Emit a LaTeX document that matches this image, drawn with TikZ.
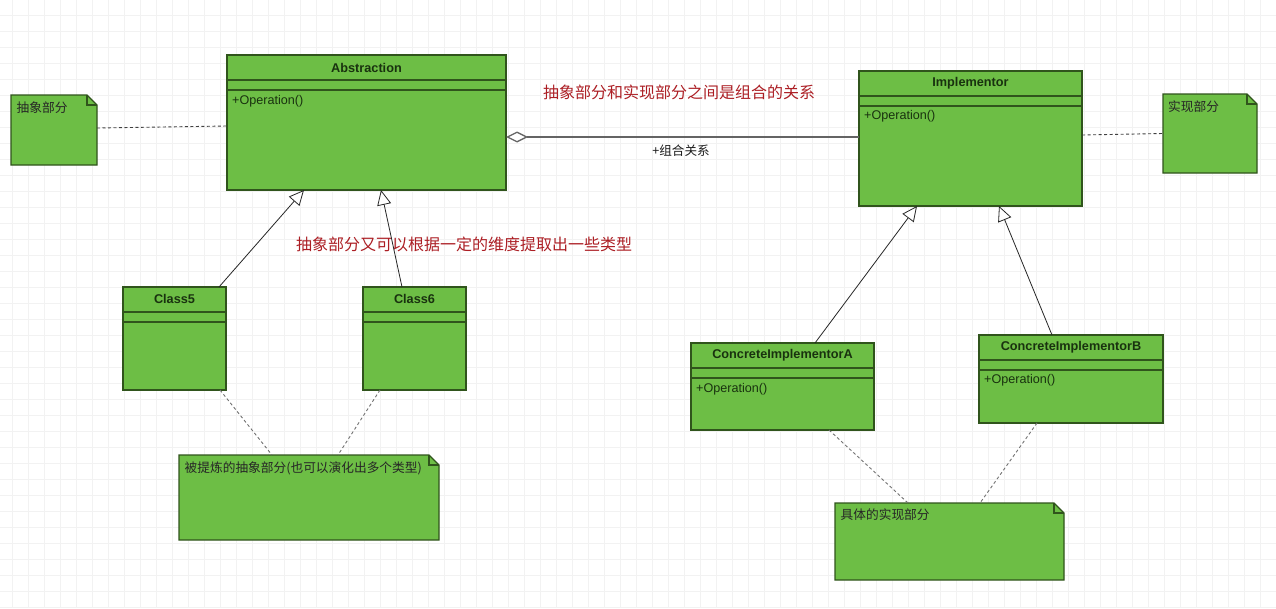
\documentclass[tikz,border=0pt]{standalone}
\usepackage{fontspec}
\setmainfont{Liberation Sans}
\newfontfamily\cjk{Noto Sans CJK SC}
\usetikzlibrary{arrows.meta,calc}
\definecolor{boxfill}{RGB}{109,190,69}
\definecolor{boxline}{RGB}{48,84,28}
\definecolor{boxtext}{RGB}{25,50,15}
\definecolor{redtext}{RGB}{172,30,36}
\definecolor{gridc}{RGB}{242,242,242}
\definecolor{assocc}{RGB}{100,100,100}
\newcommand{\drawnote}[1]{%
  \filldraw[notestyle] (#1.north west) -- ([xshift=-10pt]#1.north east) -- ([yshift=-10pt]#1.north east) -- (#1.south east) -- (#1.south west) -- cycle;
  \draw[notestyle,fill=none] ([xshift=-10pt]#1.north east) -- ([xshift=-10pt,yshift=-10pt]#1.north east) -- ([yshift=-10pt]#1.north east);}
\tikzset{
  umlbox/.style={draw=boxline, fill=boxfill, line width=1.4pt, inner sep=0pt, outer sep=0pt, anchor=north west},
  sepline/.style={draw=boxline, line width=2pt},
  cname/.style={font=\fontsize{12.7}{15}\selectfont\bfseries, text=boxtext, inner sep=0pt},
  optext/.style={font=\fontsize{12.6}{15}\selectfont, text=boxtext, inner sep=0pt, anchor=west},
  noteframe/.style={draw=none, fill=none, inner sep=0pt, outer sep=0pt, anchor=north west},
  notestyle/.style={draw=boxline, fill=boxfill, line width=1.3pt, line join=miter},
  notetext/.style={font=\cjk\fontsize{12.7}{15}\selectfont, text=black!85, inner sep=0pt, anchor=west},
  redlabel/.style={font=\cjk\fontsize{16}{19}\selectfont, text=redtext, inner sep=0pt},
  gen/.style={draw=black!85, line width=0.8pt, -{Triangle[open, length=15pt, width=14pt, fill=white]}},
  assoc/.style={draw=assocc, line width=1.3pt, {Diamond[open, length=22pt, width=11pt, fill=white]}-},
  notelink/.style={draw=black!75, line width=0.9pt, dash pattern=on 3pt off 2.5pt},
  notelinklight/.style={draw=black!55, line width=0.9pt, dash pattern=on 3pt off 2.5pt},
  gridline/.style={draw=gridc, line width=0.8pt}
}
\begin{document}
\begin{tikzpicture}[x=1pt,y=-1pt]
\useasboundingbox[fill=white] (0,0) rectangle (1276,608);
% background grid
\foreach \gx in {12,28,...,1276} \draw[gridline] (\gx,0) -- (\gx,608);
\foreach \gy in {15,31,...,608} \draw[gridline] (0,\gy) -- (1276,\gy);

% ---- classes ----
\node[umlbox, minimum width=279pt, minimum height=135pt] (abs) at (227,55) {};
\draw[sepline] (abs.west |- 0,80) -- (abs.east |- 0,80);
\draw[sepline] (abs.west |- 0,89.5) -- (abs.east |- 0,89.5);
\node[cname] (absname) at (abs.north |- 0,67.5) {Abstraction};
\node[optext] (absop) at (232,101) {+Operation()};

\node[umlbox, minimum width=223pt, minimum height=135pt] (impl) at (859,71) {};
\draw[sepline] (impl.west |- 0,96) -- (impl.east |- 0,96);
\draw[sepline] (impl.west |- 0,105.5) -- (impl.east |- 0,105.5);
\node[cname] (implname) at (impl.north |- 0,83.5) {Implementor};
\node[optext] (implop) at (864,116.5) {+Operation()};

\node[umlbox, minimum width=103pt, minimum height=103pt] (c5) at (123,287) {};
\draw[sepline] (c5.west |- 0,311.5) -- (c5.east |- 0,311.5);
\draw[sepline] (c5.west |- 0,321.5) -- (c5.east |- 0,321.5);
\node[cname] (c5name) at (c5.north |- 0,299) {Class5};

\node[umlbox, minimum width=103pt, minimum height=103pt] (c6) at (363,287) {};
\draw[sepline] (c6.west |- 0,311.5) -- (c6.east |- 0,311.5);
\draw[sepline] (c6.west |- 0,321.5) -- (c6.east |- 0,321.5);
\node[cname] (c6name) at (c6.north |- 0,299) {Class6};

\node[umlbox, minimum width=183pt, minimum height=87pt] (cia) at (691,343) {};
\draw[sepline] (cia.west |- 0,368) -- (cia.east |- 0,368);
\draw[sepline] (cia.west |- 0,377.5) -- (cia.east |- 0,377.5);
\node[cname] (cianame) at (cia.north |- 0,355) {ConcreteImplementorA};
\node[optext] (ciaop) at (696,389) {+Operation()};

\node[umlbox, minimum width=184pt, minimum height=88pt] (cib) at (979,335) {};
\draw[sepline] (cib.west |- 0,360) -- (cib.east |- 0,360);
\draw[sepline] (cib.west |- 0,370) -- (cib.east |- 0,370);
\node[cname] (cibname) at (cib.north |- 0,347.3) {ConcreteImplementorB};
\node[optext] (cibop) at (984,380.5) {+Operation()};

% ---- notes ----
\node[noteframe, minimum width=86pt, minimum height=70pt] (n1) at (11,95) {};
\drawnote{n1}
\node[notetext] (n1t) at (16.5,107.5) {抽象部分};

\node[noteframe, minimum width=94pt, minimum height=79pt] (n2) at (1163,94) {};
\drawnote{n2}
\node[notetext] (n2t) at (1168,107) {实现部分};

\node[noteframe, minimum width=260pt, minimum height=85pt] (n3) at (179,455) {};
\drawnote{n3}
\node[notetext] (n3t) at (184.5,468) {被提炼的抽象部分(也可以演化出多个类型)};

\node[noteframe, minimum width=229pt, minimum height=77pt] (n4) at (835,503) {};
\drawnote{n4}
\node[notetext] (n4t) at (840.5,515) {具体的实现部分};

% ---- free labels ----
\node[redlabel] (lbl1) at (679,92.5) {抽象部分和实现部分之间是组合的关系};
\node[redlabel] (lbl2) at (464,244) {抽象部分又可以根据一定的维度提取出一些类型};
\node[font=\cjk\fontsize{12.6}{15}\selectfont, text=black!90, inner sep=0pt] (assoclbl) at (681,151) {+组合关系};

% ---- connectors ----
\draw[assoc] ([yshift=-14.5pt]abs.east) -- ([yshift=1.5pt]impl.west);

\draw[gen] ([xshift=-7pt]c5.north east) -- ([xshift=-62.5pt]abs.south);
\draw[gen] ([xshift=-12.5pt]c6.north) -- ([xshift=14.5pt]abs.south);
\draw[gen] ([xshift=32.5pt]cia.north) -- ([xshift=-53.5pt]impl.south);
\draw[gen] ([xshift=-19pt]cib.north) -- ([xshift=28.5pt]impl.south);

\draw[notelink] ([yshift=2pt]n1.east) -- ([yshift=-3.5pt]abs.west);
\draw[notelink] ([yshift=3.5pt]impl.east) -- (n2.west);

\draw[notelinklight] ([xshift=45.5pt]c5.south) -- ([xshift=-37pt]n3.north);
\draw[notelinklight] ([xshift=-34.5pt]c6.south) -- ([xshift=29pt]n3.north);
\draw[notelinklight] ([xshift=46.5pt]cia.south) -- ([xshift=-41.5pt]n4.north);
\draw[notelinklight] ([xshift=-34pt]cib.south) -- ([xshift=30.5pt]n4.north);
\end{tikzpicture}
\end{document}
